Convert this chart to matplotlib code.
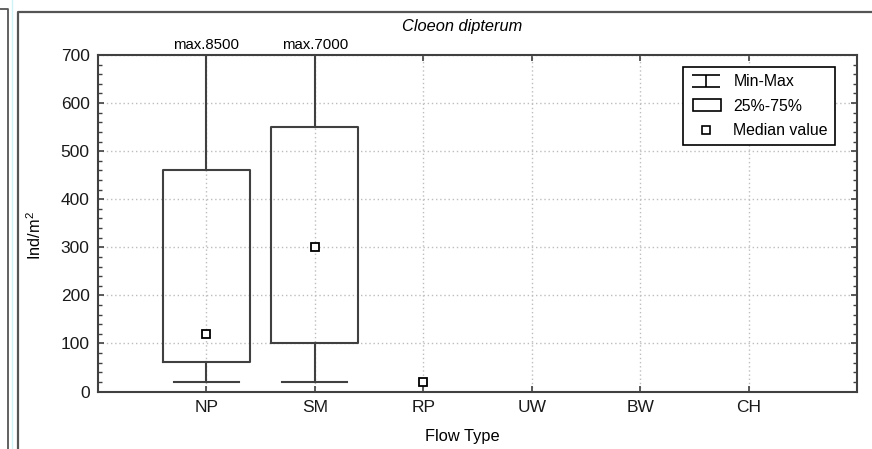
import matplotlib
matplotlib.use("Agg")
import matplotlib.pyplot as plt
from matplotlib.path import Path
from matplotlib.lines import Line2D
from matplotlib.patches import Rectangle
from matplotlib.legend_handler import HandlerPatch

plt.rcParams['font.family'] = ['Liberation Sans', 'DejaVu Sans']
plt.rcParams['mathtext.fontset'] = 'custom'
plt.rcParams['mathtext.rm'] = 'Liberation Sans'
plt.rcParams['mathtext.it'] = 'Liberation Sans:italic'

# ---------------- data ----------------
categories = ["NP", "SM", "RP", "UW", "BW", "CH"]
box_cats = ["NP", "SM"]
box_min = [20, 20]
box_q1 = [62, 100]
box_med = [120, 300]
box_q3 = [460, 550]
box_max = [8500, 7000]
median_only_cats = ["RP"]
median_only_vals = [20]
yticks = [0, 100, 200, 300, 400, 500, 600, 700]
title = "Cloeon dipterum"
xlabel = "Flow Type"
ylabel = r"Ind/m$^{2}$"

LC = '#404040'

fig = plt.figure(figsize=(8.72, 4.49), dpi=100)
W, H = 872, 449
ax = fig.add_axes([98 / W, 1 - 391.5 / H, (857 - 98) / W, (391.5 - 55) / H])

pos = {c: i + 1 for i, c in enumerate(categories)}

stats = []
for c, mn, a, m, b, mx in zip(box_cats, box_min, box_q1, box_med, box_q3, box_max):
    stats.append(dict(med=m, q1=a, q3=b, whislo=mn, whishi=mx, fliers=[], label=c))
ax.bxp(stats, positions=[pos[c] for c in box_cats], widths=0.8, capwidths=0.6,
       showfliers=False,
       boxprops=dict(color=LC, linewidth=1.5),
       whiskerprops=dict(color=LC, linewidth=1.5),
       capprops=dict(color=LC, linewidth=1.5),
       medianprops=dict(linewidth=0, color='none'),
       manage_ticks=False, zorder=3)

sq = dict(marker='s', ms=6.0, mfc='white', mec='black', mew=1.3, ls='none', zorder=5)
ax.plot([pos[c] for c in box_cats], box_med, **sq)
ax.plot([pos[c] for c in median_only_cats], median_only_vals, **sq)

ymax = 700
for c, mx in zip(box_cats, box_max):
    if mx > ymax:
        ax.annotate(f"max.{mx}", xy=(pos[c], ymax), xytext=(0, 2),
                    textcoords='offset points', ha='center', va='bottom',
                    fontsize=10.8, color='black', annotation_clip=False)

ax.set_xlim(0, 7)
ax.set_ylim(0, ymax)
ax.set_xticks([pos[c] for c in categories])
ax.set_xticklabels(categories)
ax.set_yticks(yticks)
ax.set_yticks(range(0, ymax + 1, 20), minor=True)
ax.tick_params(axis='both', which='both', direction='in', top=True, right=True,
               colors=LC, labelcolor='#1a1a1a', labelsize=12.5)
ax.tick_params(axis='both', which='major', length=4, width=1.2)
ax.tick_params(axis='y', which='minor', length=3, width=1)
ax.tick_params(axis='x', which='major', pad=6)
ax.tick_params(axis='y', which='major', pad=6)
ax.grid(True, which='major', linestyle=(0, (1, 2)), color='#bdbdbd', linewidth=1)
ax.set_axisbelow(True)
for s in ax.spines.values():
    s.set_color(LC)
    s.set_linewidth(1.5)

# legend
LFS = 11.4


def rect_func(legend, orig_handle, xdescent, ydescent, width, height, fontsize):
    w = 20.2
    return Rectangle((-xdescent + width - w, -ydescent), w, height)


mm_path = Path([(-1, 0.42), (1, 0.42), (0, 0.42), (0, -0.42), (-1, -0.42), (1, -0.42)],
               [Path.MOVETO, Path.LINETO, Path.MOVETO, Path.LINETO, Path.MOVETO, Path.LINETO])
h_mm = Line2D([], [], ls='none', marker=mm_path, ms=20, mfc='none', mec='black', mew=1.2)
h_box = Rectangle((0, 0), 1, 1, fc='white', ec='black', lw=1.2)
h_med = Line2D([], [], ls='none', marker='s', ms=5.2, mfc='white', mec='black', mew=1.2)
leg = ax.legend([h_mm, h_box, h_med], ["Min-Max", "25%-75%", "Median value"],
                loc='upper right', bbox_to_anchor=(0.971, 0.964), borderaxespad=0,
                fontsize=LFS, handlelength=2.0, handleheight=0.75, handletextpad=0.75,
                labelspacing=0.6, borderpad=0.45, fancybox=False, framealpha=1,
                edgecolor='black', handler_map={Rectangle: HandlerPatch(patch_func=rect_func)})
leg.get_frame().set_linewidth(1.2)
leg.set_zorder(10)

# texts
fig.text(462 / W, 1 - 26 / H, title, ha='center', va='center', style='italic', fontsize=11.8)
fig.text(462 / W, 1 - 437 / H, xlabel, ha='center', va='center', fontsize=11.8)
fig.text(35 / W, 1 - 236 / H, ylabel, ha='center', va='center', rotation=90, fontsize=11.8)

# outer frame lines
fig.add_artist(Line2D([18 / W, 18 / W, 1.0], [0, 1 - 12 / H, 1 - 12 / H],
                      transform=fig.transFigure, color='#555555', lw=1.6))
fig.add_artist(Line2D([0, 8 / W, 8 / W], [1 - 9 / H, 1 - 9 / H, 0],
                      transform=fig.transFigure, color='#555555', lw=1.3))
fig.add_artist(Line2D([11.5 / W, 11.5 / W], [1, 0],
                      transform=fig.transFigure, color='#cdf3f7', lw=1.0))

fig.savefig("out.png", dpi=100)
